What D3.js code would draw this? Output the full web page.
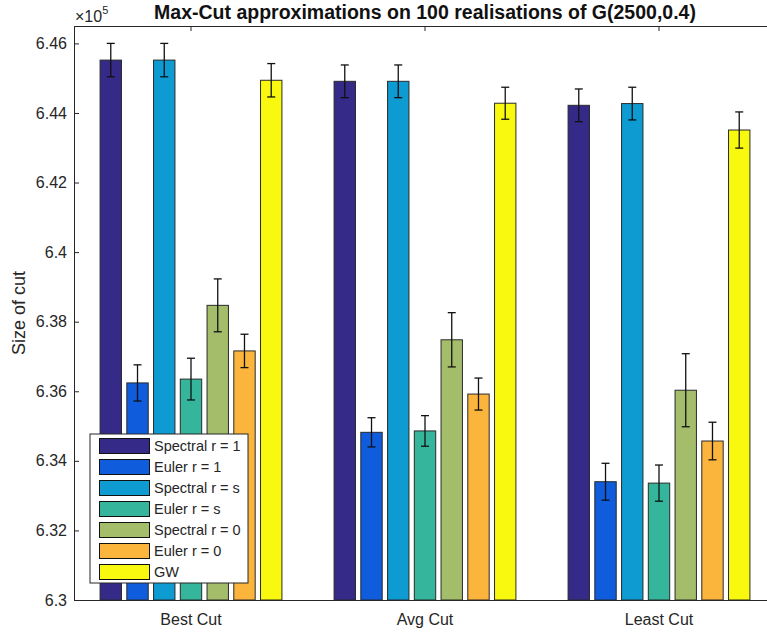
<!DOCTYPE html>
<html>
<head>
<meta charset="utf-8">
<script src="https://cdnjs.cloudflare.com/ajax/libs/d3/7.8.5/d3.min.js"></script>
<style>
  body { margin: 0; background: #fff; }
  svg { display: block; font-family: "Liberation Sans", Arial, Helvetica, sans-serif; }
</style>
</head>
<body>
<div id="chart"></div>
<script>
// values are in units of 10^5
var categories = ["Best Cut", "Avg Cut", "Least Cut"];
var seriesNames = ["Spectral r = 1", "Euler r = 1", "Spectral r = s", "Euler r = s",
                   "Spectral r = 0", "Euler r = 0", "GW"];
var seriesColors = ["#352a87", "#0f5cdd", "#0d9bd2", "#35b59b", "#a4bd6b", "#fbb43c", "#f8f90e"];

var spectral1 = [6.4552, 6.4491, 6.4422];
var euler1    = [6.3624, 6.3482, 6.3340];
var spectralS = [6.4552, 6.4491, 6.4427];
var eulerS    = [6.3635, 6.3486, 6.3336];
var spectral0 = [6.3847, 6.3748, 6.3603];
var euler0    = [6.3716, 6.3592, 6.3457];
var gw        = [6.4494, 6.4428, 6.4351];

var errSpectral1 = [0.0048, 0.0047, 0.0047];
var errEuler1    = [0.0052, 0.0042, 0.0053];
var errSpectralS = [0.0048, 0.0047, 0.0047];
var errEulerS    = [0.0060, 0.0044, 0.0052];
var errSpectral0 = [0.0076, 0.0078, 0.0105];
var errEuler0    = [0.0048, 0.0046, 0.0054];
var errGw        = [0.0048, 0.0046, 0.0052];

var yTicks = [6.30, 6.32, 6.34, 6.36, 6.38, 6.40, 6.42, 6.44, 6.46];

var allValues = [spectral1, euler1, spectralS, eulerS, spectral0, euler0, gw];
var allErrors = [errSpectral1, errEuler1, errSpectralS, errEulerS, errSpectral0, errEuler0, errGw];

var W = 767, H = 632;
var margin = {top: 26, left: 74, bottom: 32};
var plotRight = 776; // axes box runs off the right edge of the picture

var svg = d3.select("#chart").append("svg")
    .attr("width", W).attr("height", H);

var x = d3.scaleBand()
    .domain(categories)
    .range([margin.left, plotRight])
    .padding(0);

var inner = d3.scaleBand()
    .domain(seriesNames)
    .range([x.bandwidth() * 0.1, x.bandwidth() * 0.9])
    .paddingInner(0.2)
    .paddingOuter(0.1);

var y = d3.scaleLinear()
    .domain([6.30, 6.465])
    .range([H - margin.bottom, margin.top]);

var rows = [];
allValues.forEach(function(vals, s) {
  vals.forEach(function(v, c) {
    rows.push({series: seriesNames[s], cat: categories[c], value: v, err: allErrors[s][c], color: seriesColors[s]});
  });
});

// axes frame
var axisColor = "#262626";

var yAxis = d3.axisLeft(y).tickValues(yTicks).tickSize(-5).tickPadding(7)
    .tickFormat(function(d) { return d3.format("")(+d.toFixed(2)); });
var gy = svg.append("g").attr("transform", "translate(" + margin.left + ",0)").call(yAxis);

var xTop = d3.axisTop(x).tickSize(-5).tickFormat("");
var gt = svg.append("g").attr("transform", "translate(0," + margin.top + ")").call(xTop);

var xBottom = d3.axisBottom(x).tickSize(-5).tickPadding(14);
var gb = svg.append("g").attr("transform", "translate(0," + (H - margin.bottom) + ")").call(xBottom);

[gy, gt, gb].forEach(function(g) {
  g.select(".domain").attr("stroke", axisColor).attr("stroke-width", 1);
  g.selectAll(".tick line").attr("stroke", axisColor);
  g.selectAll("text").attr("fill", axisColor).style("font-size", "16px");
});

// bars
var bars = svg.append("g");
bars.selectAll("rect")
  .data(rows)
  .enter().append("rect")
  .attr("x", function(d) { return x(d.cat) + inner(d.series); })
  .attr("width", inner.bandwidth())
  .attr("y", function(d) { return y(d.value); })
  .attr("height", function(d) { return y(6.30) - y(d.value); })
  .attr("fill", function(d) { return d.color; })
  .attr("stroke", "#2a2a2a")
  .attr("stroke-width", 1);

// error bars
var cap = 4;
var eb = svg.append("g").attr("stroke", "#111").attr("stroke-width", 1.3);
rows.forEach(function(d) {
  var cx = x(d.cat) + inner(d.series) + inner.bandwidth() / 2;
  var y1 = y(d.value + d.err), y0 = y(d.value - d.err);
  eb.append("line").attr("x1", cx).attr("x2", cx).attr("y1", y1).attr("y2", y0);
  eb.append("line").attr("x1", cx - cap).attr("x2", cx + cap).attr("y1", y1).attr("y2", y1);
  eb.append("line").attr("x1", cx - cap).attr("x2", cx + cap).attr("y1", y0).attr("y2", y0);
});

// exponent label
var expo = svg.append("text").attr("x", 75).attr("y", 22).attr("fill", axisColor).style("font-size", "16px");
expo.append("tspan").text("\u00d710");
expo.append("tspan").attr("dy", -8).style("font-size", "11px").text("5");

// title
svg.append("text")
  .attr("x", (margin.left + plotRight) / 2)
  .attr("y", 18.5)
  .attr("text-anchor", "middle")
  .style("font-size", "19.5px")
  .style("font-weight", "bold")
  .attr("fill", "#111")
  .text("Max-Cut approximations on 100 realisations of G(2500,0.4)");

// y label
svg.append("text")
  .attr("transform", "translate(25," + ((margin.top + H - margin.bottom) / 2) + ") rotate(-90)")
  .attr("text-anchor", "middle")
  .attr("fill", axisColor)
  .style("font-size", "18px")
  .text("Size of cut");

// legend
var leg = svg.append("g").attr("transform", "translate(90,434)");
leg.append("rect")
  .attr("width", 158).attr("height", 149)
  .attr("fill", "#fff").attr("stroke", axisColor).attr("stroke-width", 1);
var item = leg.selectAll("g.item")
  .data(seriesNames)
  .enter().append("g")
  .attr("class", "item")
  .attr("transform", function(d, i) { return "translate(0," + (12 + i * 21) + ")"; });
item.append("rect")
  .attr("x", 9.5).attr("y", -7.5)
  .attr("width", 50).attr("height", 15)
  .attr("fill", function(d, i) { return seriesColors[i]; })
  .attr("stroke", "#111").attr("stroke-width", 1);
item.append("text")
  .attr("x", 64).attr("y", 5)
  .attr("fill", axisColor)
  .style("font-size", "14.5px")
  .text(function(d) { return d; });
</script>
</body>
</html>
